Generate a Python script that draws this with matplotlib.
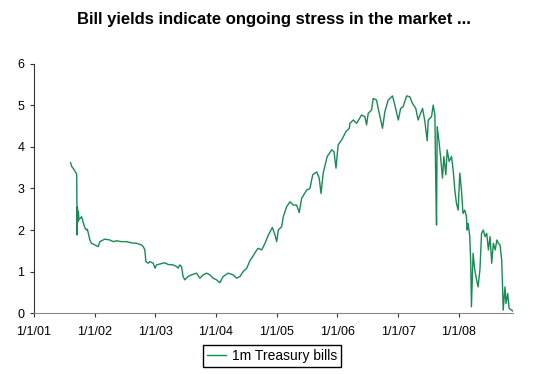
import matplotlib.pyplot as plt
import matplotlib.dates as mdates
import pandas as pd

# 1m Treasury bill yields (%)
dates = [
    "2001-08-09", "2001-08-17", "2001-08-26", "2001-09-04", "2001-09-14", "2001-09-15",
    "2001-09-17", "2001-09-19", "2001-09-22", "2001-09-25", "2001-09-28", "2001-10-14",
    "2001-10-19", "2001-11-03", "2001-11-13", "2001-11-18", "2001-12-03", "2001-12-13",
    "2002-01-02", "2002-01-22", "2002-02-01", "2002-03-03", "2002-04-02", "2002-04-22",
    "2002-05-12", "2002-06-12", "2002-07-12", "2002-08-11", "2002-09-10", "2002-10-10",
    "2002-10-20", "2002-10-30", "2002-11-05", "2002-11-19", "2002-11-29", "2002-12-19",
    "2002-12-30", "2003-01-08", "2003-01-28", "2003-02-27", "2003-03-19", "2003-04-18",
    "2003-05-09", "2003-05-18", "2003-05-28", "2003-06-07", "2003-06-17", "2003-06-27",
    "2003-07-17", "2003-08-07", "2003-09-06", "2003-09-26", "2003-10-16", "2003-11-05",
    "2003-11-25", "2003-12-15", "2004-01-04", "2004-01-24", "2004-02-13", "2004-03-14",
    "2004-04-13", "2004-05-04", "2004-05-24", "2004-06-13", "2004-07-04", "2004-07-23",
    "2004-08-12", "2004-09-02", "2004-09-11", "2004-10-02", "2004-10-22", "2004-11-11",
    "2004-12-05", "2004-12-21", "2004-12-31", "2005-01-10", "2005-01-30", "2005-02-09",
    "2005-03-01", "2005-03-21", "2005-04-10", "2005-04-30", "2005-05-16", "2005-05-30",
    "2005-06-29", "2005-07-19", "2005-08-05", "2005-08-29", "2005-09-13", "2005-09-24",
    "2005-10-07", "2005-10-31", "2005-11-27", "2005-12-11", "2005-12-23", "2006-01-05",
    "2006-01-26", "2006-02-21", "2006-03-13", "2006-03-17", "2006-04-06", "2006-04-26",
    "2006-05-26", "2006-06-15", "2006-06-25", "2006-07-05", "2006-07-25", "2006-08-04",
    "2006-08-24", "2006-09-03", "2006-09-29", "2006-10-13", "2006-11-02", "2006-11-28",
    "2006-12-12", "2007-01-02", "2007-01-16", "2007-01-31", "2007-02-21", "2007-03-12",
    "2007-03-28", "2007-04-17", "2007-05-01", "2007-05-16", "2007-05-28", "2007-06-11",
    "2007-06-25", "2007-07-01", "2007-07-21", "2007-07-31", "2007-08-10", "2007-08-16",
    "2007-08-20", "2007-08-24", "2007-09-05", "2007-09-13", "2007-09-25", "2007-10-03",
    "2007-10-15", "2007-10-23", "2007-11-04", "2007-11-18", "2007-11-28", "2007-12-08",
    "2007-12-18", "2007-12-28", "2008-01-07", "2008-01-17", "2008-01-26", "2008-02-06",
    "2008-02-16", "2008-02-20", "2008-02-26", "2008-03-07", "2008-03-13", "2008-03-17",
    "2008-03-27", "2008-04-06", "2008-04-17", "2008-04-26", "2008-05-07", "2008-05-17",
    "2008-05-27", "2008-06-07", "2008-06-17", "2008-06-27", "2008-07-07", "2008-07-17",
    "2008-07-27", "2008-08-07", "2008-08-17", "2008-08-26", "2008-09-05", "2008-09-15",
    "2008-09-21", "2008-09-24", "2008-10-05", "2008-10-11", "2008-10-21", "2008-10-30",
    "2008-11-14", "2008-11-20",
]
yields = [
    3.62, 3.52, 3.48, 3.42, 3.35, 3.30,
    1.88, 2.55, 2.20, 2.45, 2.25, 2.32,
    2.25, 2.05, 2.00, 2.02, 1.76, 1.68,
    1.64, 1.60, 1.72, 1.78, 1.76, 1.72,
    1.74, 1.72, 1.72, 1.69, 1.68, 1.64,
    1.60, 1.52, 1.24, 1.20, 1.24, 1.20,
    1.08, 1.16, 1.18, 1.21, 1.17, 1.16,
    1.12, 1.08, 1.16, 1.12, 0.88, 0.80,
    0.88, 0.92, 0.96, 0.84, 0.92, 0.96,
    0.92, 0.84, 0.80, 0.73, 0.88, 0.96,
    0.92, 0.84, 0.88, 1.00, 1.08, 1.26,
    1.38, 1.52, 1.56, 1.52, 1.68, 1.88,
    2.06, 1.88, 1.72, 2.00, 2.08, 2.32,
    2.56, 2.68, 2.60, 2.60, 2.42, 2.76,
    2.96, 3.00, 3.33, 3.40, 3.25, 2.88,
    3.37, 3.77, 3.93, 3.89, 3.49, 4.05,
    4.17, 4.37, 4.45, 4.57, 4.65, 4.57,
    4.77, 4.73, 4.53, 4.81, 4.89, 5.17,
    5.13, 4.93, 4.45, 4.85, 5.13, 5.23,
    5.01, 4.65, 4.93, 4.97, 5.23, 5.21,
    5.05, 4.93, 4.65, 4.81, 4.93, 4.61,
    4.15, 4.65, 4.73, 5.01, 4.77, 2.96,
    2.12, 4.49, 4.09, 3.77, 3.25, 3.77,
    3.33, 3.93, 3.65, 3.77, 3.45, 2.96,
    2.64, 2.48, 3.37, 2.96, 2.40, 2.48,
    2.32, 2.00, 2.16, 1.84, 1.20, 0.15,
    1.44, 1.04, 0.80, 0.63, 1.04, 1.92,
    2.00, 1.84, 1.92, 1.52, 1.84, 1.20,
    1.68, 1.52, 1.76, 1.68, 1.64, 1.28,
    0.55, 0.07, 0.63, 0.23, 0.47, 0.11,
    0.07, 0.05,
]
x_ticks = ["2001-01-01", "2002-01-01", "2003-01-01", "2004-01-01",
           "2005-01-01", "2006-01-01", "2007-01-01", "2008-01-01"]
y_ticks = [0, 1, 2, 3, 4, 5, 6]

plt.rcParams['font.family'] = ['Liberation Sans', 'DejaVu Sans']

fig = plt.figure(figsize=(5.47, 3.74), dpi=100)
ax = fig.add_axes([0.0622, 0.163, 0.875, 0.666])

ax.plot(pd.to_datetime(dates), yields, color='#188a52', linewidth=1.0,
        label="1m Treasury bills")

ax.set_xlim(pd.Timestamp(x_ticks[0]), pd.Timestamp(dates[-1]))
ax.set_ylim(0, 6)
ax.set_yticks(y_ticks)
ax.set_xticks(pd.to_datetime(x_ticks))
ax.xaxis.set_major_formatter(mdates.DateFormatter('%-m/%-d/%y'))

for side in ['top', 'right']:
    ax.spines[side].set_visible(False)
ax.spines['left'].set_color('#333333')
ax.spines['bottom'].set_color('#888888')
ax.tick_params(axis='both', labelsize=9, length=3, width=0.8, colors='#333333',
               labelcolor='black', pad=4)
ax.tick_params(axis='x', pad=6)

fig.suptitle("Bill yields indicate ongoing stress in the market ...",
             fontsize=12, fontweight='bold', x=0.5, y=0.968)

fig.legend(loc='center', bbox_to_anchor=(0.497, 0.048), fontsize=10,
           frameon=True, fancybox=False, edgecolor='black', framealpha=1,
           handlelength=1.4, borderpad=0.3, handletextpad=0.4)

plt.savefig("out.png", dpi=100)
